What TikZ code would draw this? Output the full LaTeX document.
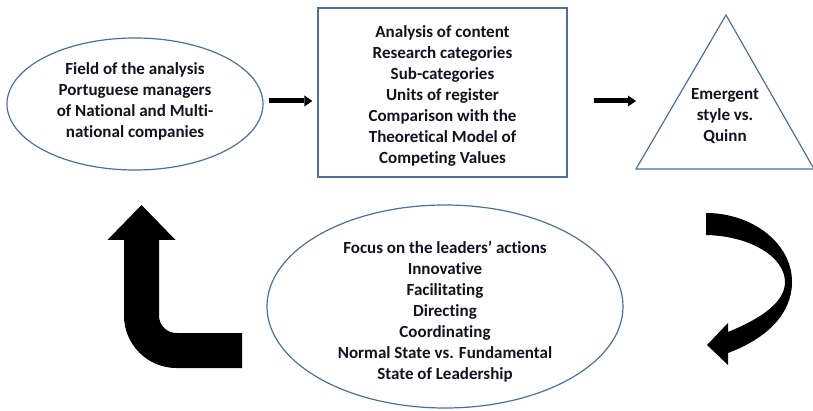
\documentclass[tikz,border=0pt]{standalone}
\usepackage{fontspec}
\setmainfont{Carlito}[Ligatures=NoCommon]
\usetikzlibrary{shapes.geometric,arrows.meta}

\definecolor{outline}{RGB}{79,111,155}
\definecolor{ink}{RGB}{18,18,32}
\newcommand{\stagefont}{\fontsize{17}{21}\selectfont\bfseries}

\tikzset{
  stagetext/.style={align=center, text=ink, font=\stagefont},
  oval/.style={ellipse, draw=outline, line width=1.2pt, inner sep=0pt},
  panel/.style={rectangle, draw=outline, line width=1.2pt, inner sep=0pt},
  flow/.style={line width=5pt, -{Triangle[width=11pt, length=8pt, line width=0pt]}},
  turn/.style={line width=35pt, rounded corners=35pt,
    -{Triangle[width=68pt, length=35pt, line width=0pt]}}
}

\begin{document}
\begin{tikzpicture}[x=1pt, y=-1pt]
  \useasboundingbox (0,0) rectangle (813,411);

  % the four stages
  \node[oval, minimum width=256pt, minimum height=132pt] (field) at (135,104) {};
  \node[stagetext, yshift=3pt] (field-text) at (field.center)
    {Field of the analysis\\Portuguese managers\\of National and Multi-\\national companies};

  \node[panel, minimum width=249pt, minimum height=169pt] (content) at (442.5,92.5) {};
  \node[stagetext, yshift=-3pt] (content-text) at (content.center)
    {Analysis of content\\Research categories\\Sub-categories\\Units of register\\Comparison with the\\Theoretical Model of\\Competing Values};

  \coordinate (apex) at (726,15);
  \coordinate (baseL) at (636,169);
  \coordinate (baseR) at (814,169);
  \draw[outline, line width=1.2pt] (apex) -- (baseL) -- (baseR) -- cycle;
  \node[stagetext] (emergent) at (725,116) {Emergent\\style vs.\\Quinn};

  \node[oval, minimum width=356pt, minimum height=203pt] (focus) at (445,306.5) {};
  \node[stagetext, yshift=-5pt] (focus-text) at (focus.center)
    {Focus on the leaders' actions\\Innovative\\Facilitating\\Directing\\Coordinating\\Normal State vs. Fundamental\\State of Leadership};

  % small arrows along the top row
  \draw[flow, shorten <=5pt, shorten >=5pt] ([yshift=3pt]field.east) -- ([yshift=3pt]field.east -| content.west);
  \draw[flow, shorten <=26pt] ([yshift=-8.5pt]content.east) -- ([yshift=-8.5pt]content.east -| baseL);

  % curved block arrow down the right side
  \fill[black] (706,213) .. controls (752,213) and (792,243) .. (792,282)
    .. controls (792,313) and (768,338) .. (728,353)
    -- (728,365) -- (707,345) -- (728,323) -- (728,332)
    .. controls (762,318) and (785,302) .. (785,282)
    .. controls (785,258) and (752,236) .. (706,235) -- cycle;

  % bent block arrow back up the left side
  \coordinate (turnS) at (242,350.5);
  \coordinate (turnE) at (141.5,205);
  \draw[turn] (turnS) -| (turnE);
\end{tikzpicture}
\end{document}
